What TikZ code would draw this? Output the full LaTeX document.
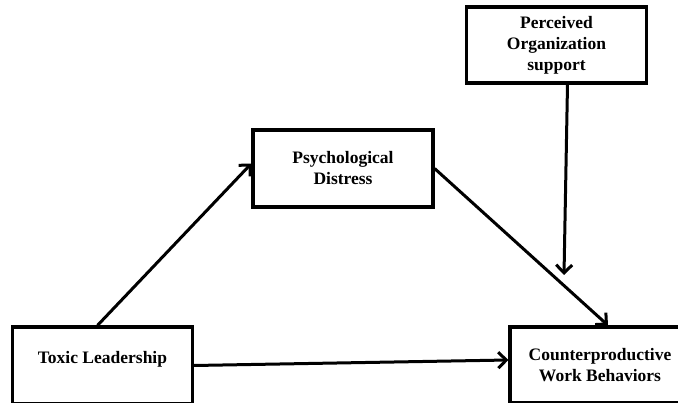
\documentclass[tikz,border=0pt]{standalone}
\usepackage{fontspec}
\setmainfont{Liberation Serif}
\usetikzlibrary{arrows.meta}
\begin{document}
\begin{tikzpicture}[x=1pt, y=-1pt,
  box/.style={draw, line width=3.2pt, minimum width=180pt, minimum height=77pt,
    inner sep=0pt, align=center, font=\bfseries\fontsize{17.5}{21}\selectfont},
  arr/.style={line width=3pt, -{Straight Barb[length=8pt,width=16pt]}}]
\useasboundingbox (0,0) rectangle (678,403);
\clip (0,0) rectangle (678,403);
\fill[white] (0,0) rectangle (678,403);
% boxes
\node[box, minimum height=76pt] (pos) at (556.5,45) {Perceived\\Organization\\support};
\node[box] (psy) at (343,168.5) {Psychological\\Distress};
\node[box, text height=12pt, text depth=16pt] (tox) at (102.5,365.5) {Toxic Leadership};
\node[box, minimum height=76pt] (cwb) at (600,365) {Counterproductive\\Work Behaviors};
\coordinate (mod) at (564,275);
% paths
\draw[arr] ([xshift=-5pt]tox.north) -- ([yshift=5pt]psy.west);
\draw[arr] (psy.east) -- ([xshift=8pt]cwb.north);
\draw[arr] ([xshift=11pt]pos.south) -- (mod);
\draw[arr] (tox.east) -- ([yshift=5pt]cwb.west);
\end{tikzpicture}
\end{document}
